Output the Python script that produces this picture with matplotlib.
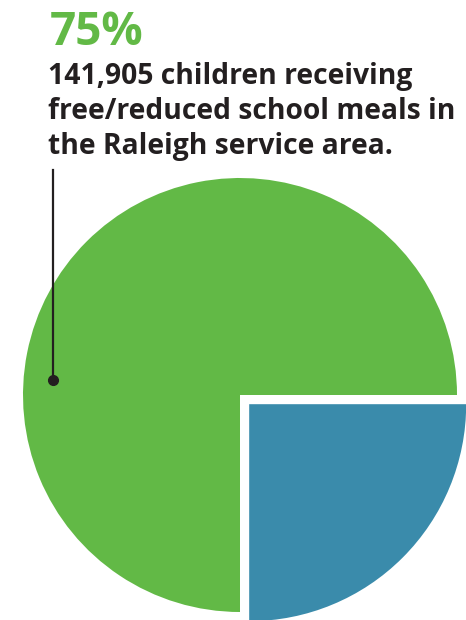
import matplotlib.pyplot as plt
from matplotlib import font_manager

# data
labels = ["Other", "Free/reduced meals"]
shares = [25, 75]
colors = ["#3a8bab", "#62b946"]
headline = "75%"
caption = ["141,905 children receiving",
           "free/reduced school meals in",
           "the Raleigh service area."]

W, H = 466, 620
fig = plt.figure(figsize=(W / 100, H / 100), dpi=100)
ax = fig.add_axes([0, 0, 1, 1])

names = {f.name for f in font_manager.fontManager.ttflist}
fam = "Liberation Sans Narrow" if "Liberation Sans Narrow" in names else "Open Sans"

# explode is in data units here (pixels), not a fraction of the radius
ax.pie(shares, colors=colors, startangle=0, counterclock=False,
       explode=[13, 0], center=(240, H - 395), radius=217,
       wedgeprops=dict(linewidth=0))

ax.text(50, H - 45, headline, color="#62b946", fontsize=33,
        fontweight="bold", family=fam, va="baseline")
for i, line in enumerate(caption):
    ax.text(48, H - 84 - i * 35, line, color="#231f20", fontsize=20.3,
            fontweight="bold", family=fam, va="baseline")

# leader line to the green slice
ax.plot([53, 53], [H - 170, H - 380], color="#231f20", lw=1.6)
ax.plot([53], [H - 380], "o", color="#231f20", ms=7)

ax.set_xlim(0, W)
ax.set_ylim(0, H)
ax.set_aspect("equal")
ax.axis("off")
fig.savefig("out.png", dpi=100)
